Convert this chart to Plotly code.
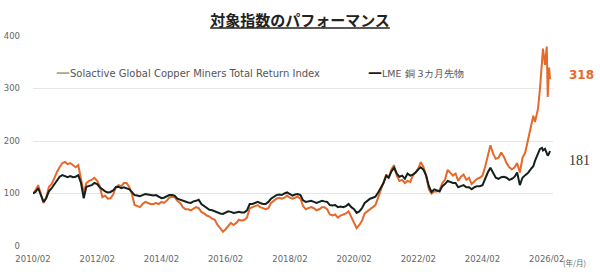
import pandas as pd
import plotly.graph_objects as go

# ---------------- data ----------------
monthly_dates = pd.date_range("2010-02-01", "2025-09-01", freq="MS")

solactive_monthly = [
    # 2010 Feb-Dec
    100, 106, 116, 98, 82, 92, 113, 118, 130, 141, 150,
    # 2011
    158, 160, 156, 158, 154, 150, 154, 126, 101, 120, 124, 126,
    # 2012
    130, 124, 114, 93, 96, 90, 91, 98, 112, 116, 114, 120,
    # 2013
    120, 112, 100, 78, 76, 74, 80, 84, 82, 80, 80, 82,
    # 2014
    80, 84, 82, 86, 92, 94, 93, 86, 82, 74, 70, 70,
    # 2015
    68, 72, 74, 72, 65, 62, 58, 56, 52, 50, 40, 34,
    # 2016
    27, 32, 38, 44, 40, 44, 50, 48, 50, 54, 72, 74,
    # 2017
    76, 78, 74, 72, 70, 72, 82, 86, 90, 92, 90, 92,
    # 2018
    96, 92, 90, 92, 94, 90, 76, 70, 72, 74, 72, 68,
    # 2019
    70, 74, 74, 70, 60, 58, 60, 54, 58, 60, 62, 66,
    # 2020
    56, 46, 34, 40, 48, 62, 66, 70, 74, 78, 92, 106,
    # 2021
    118, 136, 130, 146, 154, 134, 124, 126, 120, 124, 122, 134,
    # 2022
    140, 148, 160, 150, 134, 108, 100, 104, 104, 106, 120, 126,
    # 2023
    145, 138, 134, 138, 124, 132, 136, 126, 130, 118, 124, 128,
    # 2024
    130, 134, 150, 170, 192, 176, 166, 168, 178, 170, 158, 150,
    # 2025 Jan-Sep
    146, 150, 158, 140, 168, 178, 200, 226, 248,
]

lme_monthly = [
    # 2010 Feb-Dec
    100, 103, 110, 96, 84, 91, 104, 110, 118, 126, 132,
    # 2011
    135, 133, 131, 133, 131, 132, 135, 120, 91, 113, 114, 116,
    # 2012
    120, 118, 112, 107, 104, 102, 103, 106, 112, 113, 110, 112,
    # 2013
    110, 108, 103, 97, 96, 95, 97, 99, 98, 97, 96, 97,
    # 2014
    94, 91, 92, 94, 97, 97, 96, 90, 88, 86, 84, 83,
    # 2015
    82, 85, 86, 88, 80, 76, 72, 69, 68, 66, 63, 62,
    # 2016
    61, 63, 66, 65, 63, 64, 65, 64, 64, 68, 80, 80,
    # 2017
    82, 84, 82, 80, 80, 84, 90, 94, 97, 98, 97, 100,
    # 2018
    102, 99, 96, 98, 99, 97, 87, 84, 85, 86, 84, 82,
    # 2019
    84, 86, 85, 84, 78, 77, 78, 74, 75, 74, 76, 80,
    # 2020
    74, 70, 63, 66, 72, 82, 86, 90, 92, 94, 102, 112,
    # 2021
    120, 134, 130, 142, 149, 138, 132, 134, 128, 138, 134, 136,
    # 2022
    140, 146, 150, 145, 134, 114, 103, 108, 106, 104, 114, 118,
    # 2023
    124, 122, 120, 120, 112, 114, 116, 112, 112, 108, 112, 114,
    # 2024
    114, 116, 128, 140, 149, 138, 130, 128, 131, 132, 130, 126,
    # 2025 Jan-Sep
    128, 132, 140, 116, 130, 135, 139, 146, 152,
]

tail_dates = ["2025-09-20", "2025-10-25", "2025-11-16", "2025-12-09", "2025-12-20",
              "2026-01-12", "2026-02-01", "2026-02-12", "2026-02-27", "2026-03-10"]
solactive_tail = [236, 262, 300, 352, 376, 345, 380, 284, 340, 318]
lme_tail = [162, 178, 185, 187, 182, 185, 178, 172, 176, 181]

tick_dates = ["2010-02-01", "2012-02-01", "2014-02-01", "2016-02-01", "2018-02-01",
              "2020-02-01", "2022-02-01", "2024-02-01", "2026-02-01"]
tick_labels = ["2010/02", "2012/02", "2014/02", "2016/02", "2018/02",
               "2020/02", "2022/02", "2024/02", "2026/02"]

series_names = ["Solactive Global Copper Miners Total Return Index", "LME 銅 3カ月先物"]

assert len(solactive_monthly) == len(monthly_dates) == len(lme_monthly)

dates = [d.strftime("%Y-%m-%d") for d in monthly_dates] + tail_dates
solactive = solactive_monthly + solactive_tail
lme = lme_monthly + lme_tail

ORANGE = "#E4692A"
DARK = "#14211A"
LEGEND_OLIVE = "#A9A98A"

fig = go.Figure()
fig.add_trace(go.Scatter(x=dates, y=solactive, mode="lines", name=series_names[0],
                         line=dict(color=ORANGE, width=2), showlegend=False))
fig.add_trace(go.Scatter(x=dates, y=lme, mode="lines", name=series_names[1],
                         line=dict(color=DARK, width=2), showlegend=False))

FONT = "DejaVu Sans"

fig.update_layout(
    width=600, height=272,
    margin=dict(l=33, r=47, t=36, b=26),
    paper_bgcolor="white", plot_bgcolor="white",
    title=dict(text="<b><u>対象指数のパフォーマンス</u></b>",
               font=dict(family="Noto Sans CJK JP", size=15, color="#222222"),
               x=0.5, xref="container", xanchor="center",
               y=1 - 21 / 272, yref="container", yanchor="middle"),
    xaxis=dict(type="date", range=["2010-02-01", "2026-04-13"],
               tickvals=tick_dates, ticktext=tick_labels, automargin=False,
               showgrid=False, zeroline=False, showline=False, ticks="",
               ticklabelstandoff=6,
               tickfont=dict(family=FONT, size=8.5, color="#666666")),
    yaxis=dict(range=[0, 400], dtick=100, showgrid=True, gridcolor="#E6E6E6",
               gridwidth=1, zeroline=False, showline=False, ticks="",
               ticklabelstandoff=12, automargin=False,
               tickfont=dict(family=FONT, size=8.5, color="#666666")),
    showlegend=False,
)

annotations = [
    dict(text=f"<span style='color:{LEGEND_OLIVE};font-size:14px'><b>—</b></span>{series_names[0]}",
         xref="paper", yref="paper", x=(54 - 33) / 520, y=(246 - 72) / 210,
         xanchor="left", yanchor="middle", showarrow=False,
         font=dict(family=FONT, size=10, color="#555555")),
    dict(text=f"<span style='color:{DARK};font-size:14px'><b>—</b></span>{series_names[1]}",
         xref="paper", yref="paper", x=(366 - 33) / 520, y=(246 - 72) / 210,
         xanchor="left", yanchor="middle", showarrow=False,
         font=dict(family=FONT, size=9.5, color="#555555")),
    dict(text=f"<b>{solactive[-1]}</b>", xref="paper", yref="y",
         x=(567 - 33) / 520, y=326, xanchor="left", yanchor="middle", showarrow=False,
         font=dict(family=FONT, size=12, color=ORANGE)),
    dict(text=f"{lme[-1]}", xref="paper", yref="y",
         x=(567 - 33) / 520, y=162, xanchor="left", yanchor="middle", showarrow=False,
         font=dict(family="Liberation Serif", size=14, color="#333333")),
    dict(text="(年/月)", xref="paper", yref="paper",
         x=(561 - 33) / 520, y=(246 - 262) / 210, xanchor="left", yanchor="middle",
         showarrow=False, font=dict(family="Noto Sans CJK JP", size=7.5, color="#666666")),
]
fig.update_layout(annotations=annotations)

fig.write_html("out.html")
